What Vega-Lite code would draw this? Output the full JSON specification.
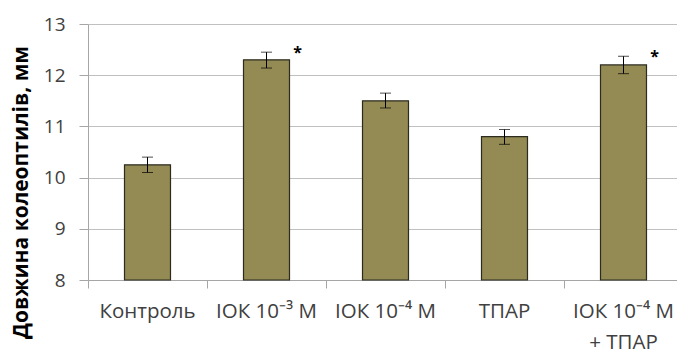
{
  "$schema": "https://vega.github.io/schema/vega-lite/v6.json",
  "width": 589,
  "height": 256,
  "autosize": {"type": "none"},
  "padding": {"left": 88, "top": 24, "right": 0, "bottom": 73},
  "background": "white",
  "config": {"view": {"stroke": null}},
  "data": {
    "values": [
      {"cat": "Контроль", "value": 10.25, "lo": 10.1, "hi": 10.4, "star": ""},
      {"cat": "ІОК 10⁻³  М", "value": 12.3, "lo": 12.14, "hi": 12.45, "star": "*"},
      {"cat": "ІОК 10⁻⁴  М", "value": 11.5, "lo": 11.36, "hi": 11.65, "star": ""},
      {"cat": "ТПАР", "value": 10.8, "lo": 10.65, "hi": 10.94, "star": ""},
      {"cat": "ІОК 10⁻⁴ М|+ ТПАР", "value": 12.2, "lo": 12.03, "hi": 12.37, "star": "*"}
    ]
  },
  "encoding": {
    "x": {
      "field": "cat",
      "type": "nominal",
      "sort": null,
      "scale": {"paddingInner": 0, "paddingOuter": 0, "range": [0, 595]},
      "axis": {
        "title": null,
        "labelAngle": 0,
        "bandPosition": 0,
        "labelExpr": "split(datum.value, '|')",
        "labelFont": "Open Sans",
        "labelFontSize": 20.5,
        "labelColor": "#404040",
        "labelPadding": 13,
        "labelLineHeight": 31,
        "labelBaseline": "top",
        "domainColor": "#a6a6a6",
        "tickColor": "#a6a6a6",
        "tickSize": 8,
        "grid": false
      }
    }
  },
  "layer": [
    {
      "mark": {"type": "bar", "color": "#948a54", "stroke": "#2b2b1e", "strokeWidth": 1.2, "width": 46},
      "encoding": {
        "y": {
          "field": "value",
          "type": "quantitative",
          "scale": {"domain": [8, 13], "zero": false, "nice": false},
          "axis": {
            "values": [8, 9, 10, 11, 12, 13],
            "title": "Довжина колеоптилів, мм",
            "titleFont": "Open Sans",
            "titleFontSize": 21,
            "titleFontWeight": "bold",
            "titleColor": "#000000",
            "titleAngle": -90,
            "titleX": -67,
            "titleY": 168,
            "titleAlign": "center",
            "titleBaseline": "middle",
            "labelFont": "Open Sans",
            "labelFontSize": 19,
            "labelColor": "#404040",
            "labelPadding": 14,
            "domainColor": "#a6a6a6",
            "tickColor": "#a6a6a6",
            "tickSize": 9,
            "gridColor": "#c0c0c0",
            "gridWidth": 1
          }
        },
        "y2": {"datum": 8}
      }
    },
    {
      "mark": {"type": "rule", "color": "#000000", "strokeWidth": 1},
      "encoding": {
        "y": {"field": "lo", "type": "quantitative"},
        "y2": {"field": "hi"}
      }
    },
    {
      "mark": {"type": "tick", "color": "#000000", "thickness": 1, "size": 11},
      "encoding": {"y": {"field": "lo", "type": "quantitative"}}
    },
    {
      "mark": {"type": "tick", "color": "#000000", "thickness": 1, "size": 11},
      "encoding": {"y": {"field": "hi", "type": "quantitative"}}
    },
    {
      "mark": {"type": "text", "font": "Open Sans", "fontSize": 16, "fontWeight": "bold", "dx": 31, "dy": 1, "baseline": "middle", "color": "#000000"},
      "encoding": {
        "y": {"field": "hi", "type": "quantitative"},
        "text": {"field": "star"}
      }
    }
  ]
}
